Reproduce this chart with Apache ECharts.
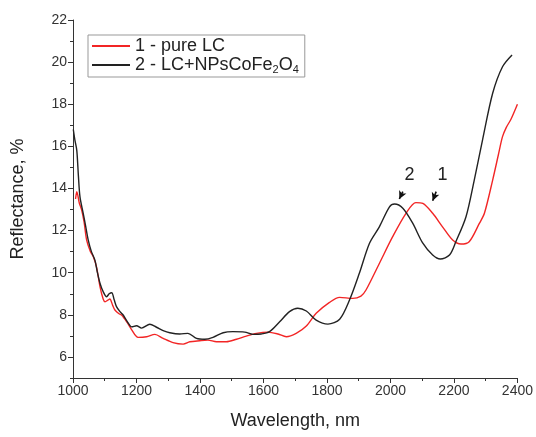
<!DOCTYPE html>
<html>
<head>
<meta charset="utf-8">
<script src="https://cdn.jsdelivr.net/npm/echarts@6/dist/echarts.min.js"></script>
<style>
  html, body { margin: 0; padding: 0; background: #fff; }
  #main { width: 536px; height: 437px; }
</style>
</head>
<body>
<div id="main"></div>
<script>
// wavelength (nm) / reflectance (%)
var pureWl = [1008, 1012, 1020, 1027, 1035, 1043, 1055, 1064, 1074, 1085, 1095, 1101, 1110, 1116, 1125, 1132, 1145, 1153, 1170, 1184,
    1205, 1232, 1258, 1284, 1315, 1347, 1368, 1399, 1425, 1452, 1483, 1515, 1546, 1578, 1614, 1646, 1672, 1703, 1735, 1766,
    1808, 1840, 1881, 1907, 1923, 1965, 2007, 2049, 2080, 2102, 2133, 2164, 2196, 2222, 2248, 2280, 2296, 2322, 2340, 2353,
    2365, 2380, 2400];
var pureR = [13.5, 13.85, 13.3, 13.0, 12.4, 11.55, 11.0, 10.76, 10.28, 9.34, 8.75, 8.62, 8.7, 8.75, 8.45, 8.23, 8.05, 7.99, 7.65, 7.31,
    6.93, 6.96, 7.07, 6.88, 6.68, 6.61, 6.72, 6.77, 6.8, 6.72, 6.72, 6.84, 6.99, 7.12, 7.18, 7.09, 6.96, 7.12, 7.47, 8.07,
    8.59, 8.83, 8.78, 8.89, 9.18, 10.44, 11.71, 12.82, 13.33, 13.29, 12.82, 12.18, 11.55, 11.36, 11.47, 12.34, 12.82, 14.4, 15.6, 16.46,
    16.9, 17.3, 18.0];

var npsWl = [1001, 1006, 1012, 1017, 1022, 1032, 1040, 1048, 1058, 1069, 1077, 1085, 1095, 1106, 1114, 1122, 1130, 1137, 1148, 1158,
    1170, 1185, 1200, 1216, 1242, 1263, 1284, 1305, 1336, 1362, 1389, 1415, 1441, 1473, 1504, 1541, 1567, 1593, 1619, 1651,
    1682, 1708, 1735, 1766, 1803, 1840, 1871, 1902, 1934, 1965, 1997, 2013, 2039, 2070, 2102, 2133, 2157, 2186, 2206, 2238,
    2264, 2290, 2322, 2353, 2383];
var npsR = [16.8, 16.3, 15.8, 14.6, 13.6, 12.83, 12.2, 11.55, 11.0, 10.6, 10.0, 9.5, 9.1, 8.86, 9.0, 9.05, 8.7, 8.39, 8.15, 7.99,
    7.7, 7.43, 7.48, 7.37, 7.55, 7.41, 7.25, 7.15, 7.09, 7.12, 6.88, 6.84, 6.93, 7.15, 7.2, 7.18, 7.07, 7.09, 7.2, 7.67,
    8.15, 8.31, 8.18, 7.75, 7.56, 7.79, 8.7, 9.97, 11.4, 12.18, 13.13, 13.26, 13.06, 12.35, 11.4, 10.84, 10.65, 10.84, 11.47, 12.66,
    14.4, 16.3, 18.52, 19.78, 20.34];

var yTicks = [6, 8, 10, 12, 14, 16, 18, 20, 22];

// peak markers "2" and "1"
var peakNames = ['2', '1'];
var peakText = [[2060, 14.64], [2164, 14.64]];
var peakArrows = [[[2039, 13.85], [2028, 13.5]], [[2144, 13.85], [2133, 13.42]]];

var name1 = '1 - pure LC';
var name2 = '2 - LC+NPsCoFe2O4';

function zip(a, b) {
    return a.map(function (v, i) { return [v, b[i]]; });
}

var chart = echarts.init(document.getElementById('main'));

var font = 'Liberation Sans, Arial, sans-serif';

var option = {
    animation: false,
    textStyle: { fontFamily: font },
    grid: { left: 73, right: 18, top: 20, bottom: 59 },
    legend: {
        orient: 'vertical',
        left: 88,
        top: 35,
        padding: [2, 6, 2, 4],
        itemGap: 1,
        itemWidth: 38,
        itemHeight: 2,
        icon: 'rect',
        borderColor: '#999',
        borderWidth: 1,
        textStyle: {
            fontFamily: font,
            fontSize: 18,
            color: '#222',
            rich: {
                s: { fontFamily: font, fontSize: 11, color: '#222', padding: [9, 0, 0, 0] }
            }
        },
        formatter: function (n) {
            if (n === name2) return '2 - LC+NPsCoFe{s|2}O{s|4}';
            return n;
        },
        data: [name1, name2]
    },
    xAxis: {
        type: 'value',
        min: 1000,
        max: 2400,
        interval: 200,
        name: 'Wavelength, nm',
        nameLocation: 'middle',
        nameGap: 34,
        nameTextStyle: { fontSize: 18, color: '#222' },
        axisLine: { lineStyle: { color: '#333', width: 1 } },
        axisTick: { length: 5, lineStyle: { color: '#333' } },
        minorTick: { show: true, splitNumber: 2, length: 3, lineStyle: { color: '#333' } },
        splitLine: { show: false },
        axisLabel: {
            fontSize: 14, color: '#333', margin: 6,
            formatter: function (v) { return String(v); }
        }
    },
    yAxis: [{
        type: 'value',
        min: 5,
        max: 22,
        name: 'Reflectance, %',
        nameLocation: 'middle',
        nameGap: 46,
        nameTextStyle: { fontSize: 18, color: '#222' },
        axisLine: { show: true, lineStyle: { color: '#333', width: 1 } },
        axisTick: { show: true, length: 5, customValues: yTicks, lineStyle: { color: '#333' } },
        splitLine: { show: false },
        axisLabel: { fontSize: 14, color: '#333', margin: 6, customValues: yTicks }
    }, {
        // minor ticks every 1 %
        type: 'value',
        position: 'left',
        min: 5,
        max: 22,
        interval: 1,
        axisLine: { show: false },
        axisTick: { show: true, length: 3, lineStyle: { color: '#333' } },
        axisLabel: { show: false },
        splitLine: { show: false }
    }],
    series: [{
        name: name1,
        type: 'line',
        symbol: 'none',
        smooth: 0.3,
        lineStyle: { color: '#f22525', width: 1.4 },
        itemStyle: { color: '#f22525' },
        data: zip(pureWl, pureR),
        z: 2
    }, {
        name: name2,
        type: 'line',
        symbol: 'none',
        smooth: 0.3,
        lineStyle: { color: '#222', width: 1.4 },
        itemStyle: { color: '#222' },
        data: zip(npsWl, npsR),
        z: 3,
        markLine: {
            silent: true,
            symbol: ['none', 'arrow'],
            symbolSize: [6, 8],
            label: { show: false },
            lineStyle: { color: '#111', width: 1.6, type: 'solid' },
            data: peakArrows.map(function (a) {
                return [{ coord: a[0] }, { coord: a[1] }];
            })
        },
        markPoint: {
            silent: true,
            symbol: 'circle',
            symbolSize: 0,
            label: {
                show: true,
                position: 'inside',
                fontSize: 18,
                color: '#222',
                formatter: function (p) { return p.name; }
            },
            data: peakNames.map(function (n, i) {
                return { name: n, coord: peakText[i] };
            })
        }
    }]
};

chart.setOption(option);
</script>
</body>
</html>
